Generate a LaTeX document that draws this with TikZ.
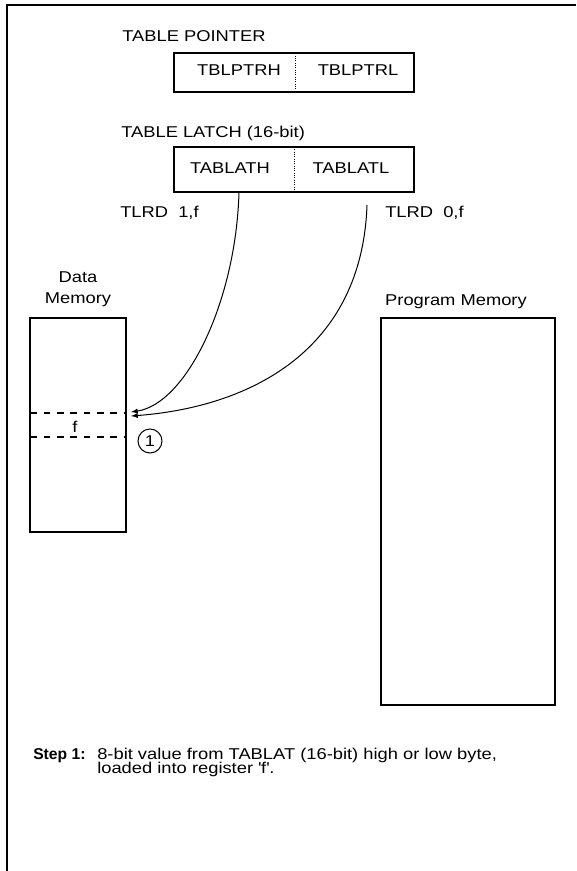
\documentclass[tikz,border=0pt]{standalone}
\usepackage{fontspec}
\setmainfont{Liberation Sans}[FakeStretch=1.17]
\newfontfamily\stepfont{Liberation Sans}
\usetikzlibrary{positioning}
\tikzset{
	lbl/.style={inner sep=0pt,font=\fontsize{11.75}{14}\selectfont},
	regbox/.style={draw,line width=1.5pt,inner sep=0pt,minimum width=180pt},
	membox/.style={draw,line width=1.5pt,inner sep=0pt},
	rowline/.style={line width=1.5pt,dash pattern=on 5pt off 5pt},
	halfline/.style={line width=0.75pt,densely dotted},
	readarrow/.style={-latex,line width=0.75pt},
}
\begin{document}
\begin{tikzpicture}[x=0.75pt,y=-0.75pt]
		\useasboundingbox (0,0) rectangle (576,871);
		\draw[line width=1.5pt] (7,871) -- (7,5) -- (576,5);
		% table pointer
		\node[lbl,anchor=base west] (ptrtitle) at (122,41) {TABLE POINTER};
		\node[regbox,minimum height=28.8pt] (ptr) at (294.3,72.5) {};
		\draw[halfline] (295,53.3) -- (295,91.7);
		\node[lbl,anchor=base] (ptrh) at (239,75) {TBLPTRH};
		\node[lbl,anchor=base] (ptrl) at (358,75) {TBLPTRL};
		% table latch
		\node[lbl,anchor=base west] (lattitle) at (121,137) {TABLE LATCH (16-bit)};
		\node[regbox,minimum height=33.5pt] (lat) at (294.3,169.3) {};
		\draw[halfline] (294.3,147) -- (294.3,191.7);
		\node[lbl,anchor=base] (lath) at (230,173) {TABLATH};
		\node[lbl,anchor=base] (latl) at (351,173) {TABLATL};
		\node[lbl,anchor=base west] (rd1) at (120,217) {TLRD~~1,f};
		\node[lbl,anchor=base west] (rd0) at (385,217) {TLRD~~0,f};
		% data memory
		\node[lbl,anchor=base] (dmtop) at (78,282) {Data};
		\node[lbl,anchor=base] (dmbot) at (78,303) {Memory};
		\node[membox,minimum width=71.8pt,minimum height=160.5pt] (dmem) at (78.2,424.7) {};
		\draw[rowline] (30.3,413) -- (126,413);
		\draw[rowline] (30.3,437) -- (126,437);
		\node[lbl,anchor=base] (freg) at (75,432) {f};
		\node[lbl,draw,circle,line width=0.75pt,minimum size=18pt] (num1) at (150,441) {1};
		% program memory
		\node[lbl,anchor=base] (pmtitle) at (456,305) {Program Memory};
		\node[membox,minimum width=130.5pt,minimum height=290pt] (pmem) at (468,511.5) {};
		% reads
		\coordinate (hisrc) at (239,192);
		\coordinate (losrc) at (367,205);
		\coordinate (fin1) at (131,412);
		\coordinate (fin2) at (131,416);
		\draw[readarrow] (hisrc) .. controls +(-3,110) and +(55,-8) .. (fin1);
		\draw[readarrow] (losrc) .. controls +(-5,145) and +(120,-9) .. (fin2);
		% step text
		\node[lbl,anchor=base west,font=\fontsize{11.75}{14}\selectfont\stepfont\bfseries] (stepno) at (33,759) {Step 1:};
		\node[lbl,anchor=base west] (desc1) at (97,759) {8-bit value from TABLAT (16-bit) high or low byte,};
		\node[lbl,anchor=base west] (desc2) at ([yshift=-10.5pt]desc1.base west) {loaded into register \textquotesingle f\textquotesingle.};
	\end{tikzpicture}
\end{document}
